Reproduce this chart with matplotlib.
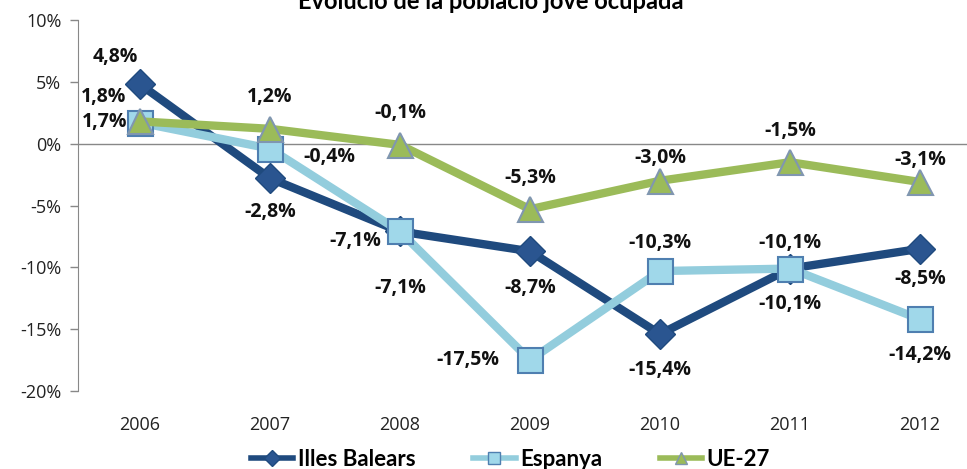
import matplotlib.pyplot as plt
from matplotlib.lines import Line2D
from matplotlib.ticker import FuncFormatter

years = ['2006', '2007', '2008', '2009', '2010', '2011', '2012']
illes = [4.8, -2.8, -7.1, -8.7, -15.4, -10.1, -8.5]
espanya = [1.7, -0.4, -7.1, -17.5, -10.3, -10.1, -14.2]
ue27 = [1.8, 1.2, -0.1, -5.3, -3.0, -1.5, -3.1]

# label offsets in pixels (dx, dy)
off_illes = [(-25, 27), (0, -34), (-45, -10), (0, -37), (0, -36), (0, 26), (0, -30)]
off_esp = [(-35, 1), (59, -8), (0, -57), (-62, 0), (0, 28), (0, -35), (0, -36)]
off_ue = [(-36, 24), (0, 32), (0, 32), (0, 31), (0, 23), (0, 31), (0, 22)]

plt.rcParams['font.family'] = ['Open Sans', 'DejaVu Sans']

fig = plt.figure(figsize=(9.67, 4.69), dpi=100)
ax = fig.add_axes([78 / 967, 78 / 469, 1 - 78 / 967, 371 / 469])

c_ib, c_es, c_ue = '#1f4a7e', '#93cddd', '#9bbb59'
x = list(range(len(years)))
ax.plot(x, illes, color=c_ib, lw=6, marker='D', ms=15, mfc='#2a5590',
        mec=c_ib, zorder=3)
ax.plot(x, espanya, color=c_es, lw=6, marker='s', ms=18, mfc='#a0d8ea',
        mec='#4f7fb0', mew=1.5, zorder=4)
ax.plot(x, ue27, color=c_ue, lw=6, marker='^', ms=18, mfc=c_ue,
        mec='#8096b0', mew=1.5, zorder=5)

def fmt(v):
    return ('%.1f' % v).replace('.', ',') + '%'

for vals, offs in [(illes, off_illes), (espanya, off_esp), (ue27, off_ue)]:
    for i, v in enumerate(vals):
        ax.annotate(fmt(v), (i, v), xytext=offs[i], textcoords='offset pixels',
                    ha='center', va='center', fontsize=14, fontweight='bold',
                    color='#111111', zorder=6)

ax.set_xlim(-62 / 130, 827 / 130)
ax.set_ylim(-20, 10)
ax.set_yticks(range(-20, 11, 5))
ax.yaxis.set_major_formatter(FuncFormatter(lambda v, p: '%d%%' % v))
ax.set_xticks(x)
ax.set_xticklabels(years)
ax.tick_params(axis='x', length=0, pad=18, labelsize=13, colors='#222222')
ax.tick_params(axis='y', length=6, width=1, color='#888888', labelsize=13,
               labelcolor='#222222', pad=6)

for s in ['top', 'right', 'bottom']:
    ax.spines[s].set_visible(False)
ax.spines['left'].set_color('#888888')
ax.axhline(0, color='#888888', lw=1, zorder=1)

fig.text(0.507, 0.997, 'Evolució de la població jove ocupada', ha='center', va='center',
         fontsize=17, fontweight='bold', family='Lato')

handles = [
    Line2D([], [], color=c_ib, lw=4, marker='D', ms=8, mfc='#2a5590', mec=c_ib),
    Line2D([], [], color=c_es, lw=4, marker='s', ms=9, mfc='#a0d8ea', mec='#4f7fb0'),
    Line2D([], [], color=c_ue, lw=4, marker='^', ms=9, mfc=c_ue, mec='#8096b0'),
]
fig.legend(handles, ['Illes Balears', 'Espanya', 'UE-27'], loc='center',
           bbox_to_anchor=(0.528, 0.02), ncol=3, frameon=False,
           prop={'family': 'Lato', 'weight': 'bold', 'size': 16},
           handlelength=1.9, columnspacing=2.6, handletextpad=0.2)

fig.savefig('out.png', dpi=100)
